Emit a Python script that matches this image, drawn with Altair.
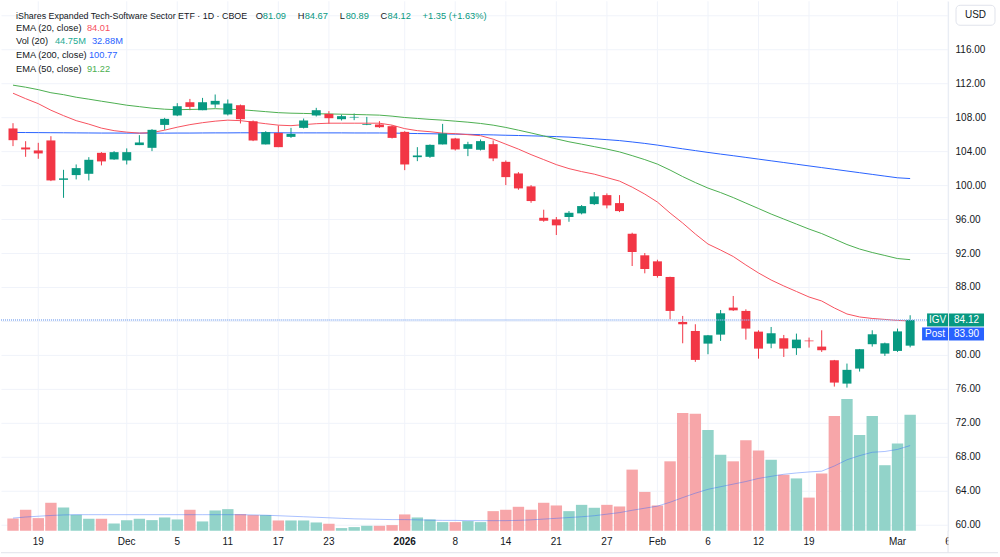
import altair as alt
import pandas as pd

# Daily sessions, Nov 17 2025 .. Mar 3 2026 (index 0 .. 71)
opens = [106.67, 104.43, 104.08, 105.26, 100.62, 101.18, 101.33, 103.80, 103.02, 102.90,
         104.71, 104.39, 107.09, 108.20, 109.76, 108.82, 109.49, 108.32, 109.41, 107.53,
         104.79, 106.15, 105.68, 106.74, 108.20, 108.39, 107.76, 107.96, 107.09, 107.14,
         106.94, 106.27, 103.29, 103.33, 104.79, 105.49, 104.27, 104.16, 104.82, 102.74,
         101.37, 99.85, 96.15, 95.96, 96.24, 96.67, 97.76, 98.82, 97.88, 94.27,
         91.73, 91.02, 89.18, 83.88, 82.82, 81.33, 82.39, 85.57, 85.18, 82.74,
         81.33, 81.96, 80.79, 81.69, 80.98, 79.37, 76.62, 78.39, 81.26, 80.15,
         80.47, 81.09]
highs = [107.29, 105.17, 104.98, 105.76, 101.80, 102.43, 103.29, 103.88, 104.00, 104.32,
         105.88, 106.59, 107.92, 109.65, 110.15, 110.27, 110.67, 110.08, 109.49, 107.61,
         106.35, 107.02, 106.74, 107.84, 109.10, 108.71, 108.32, 108.43, 108.03, 107.53,
         107.06, 106.35, 104.47, 104.79, 107.21, 105.56, 105.10, 105.37, 105.26, 102.90,
         101.53, 100.00, 97.10, 96.24, 96.94, 97.65, 99.18, 99.02, 98.82, 94.39,
         92.00, 91.21, 89.21, 84.59, 83.61, 82.35, 85.29, 86.94, 85.37, 82.90,
         83.29, 82.35, 82.51, 82.04, 82.90, 79.41, 78.98, 80.70, 82.90, 81.45,
         83.10, 84.67]
lows = [104.59, 103.33, 103.10, 100.47, 98.50, 100.67, 100.55, 102.32, 102.98, 102.43,
        104.71, 104.00, 106.51, 108.12, 108.82, 108.82, 109.10, 108.20, 107.26, 105.18,
        104.79, 104.47, 105.56, 106.67, 108.08, 107.21, 107.61, 107.65, 107.06, 106.74,
        105.49, 101.76, 102.82, 103.21, 104.79, 104.08, 103.41, 104.08, 102.82, 100.00,
        99.45, 97.92, 95.68, 94.12, 95.68, 96.55, 97.65, 97.26, 96.82, 90.47,
        89.61, 89.10, 84.20, 81.37, 79.18, 80.08, 81.65, 85.18, 81.80, 79.56,
        80.79, 79.76, 80.00, 80.86, 80.35, 76.27, 76.15, 78.04, 80.98, 79.88,
        80.35, 80.89]
closes = [105.29, 104.20, 103.73, 100.55, 100.79, 102.00, 102.98, 102.79, 103.88, 103.88,
          105.02, 106.51, 107.80, 109.29, 109.21, 109.76, 109.92, 109.61, 107.76, 105.26,
          106.24, 104.47, 106.03, 107.61, 108.82, 107.88, 108.12, 108.03, 107.18, 106.82,
          105.56, 102.43, 103.49, 104.74, 106.08, 104.20, 104.82, 105.18, 103.14, 100.94,
          99.61, 98.12, 95.80, 95.26, 96.74, 97.53, 98.67, 97.61, 96.94, 92.12,
          90.12, 89.29, 85.18, 83.61, 79.41, 82.31, 84.90, 85.25, 83.10, 80.74,
          82.55, 80.74, 81.80, 81.61, 80.55, 76.74, 78.24, 80.67, 82.43, 81.37,
          82.77, 84.12]
# Volume in millions of shares
volume_m = [4.74, 8.1, 4.87, 10.8, 8.98, 6.17, 4.63, 4.63, 2.8, 4.1,
            4.63, 4.1, 5.13, 4.36, 8.1, 3.59, 7.83, 8.34, 6.42, 6.04,
            6.04, 3.97, 3.97, 3.97, 3.2, 2.7, 1.03, 1.41, 1.92, 1.92,
            2.18, 6.3, 5.13, 4.36, 3.33, 3.33, 3.72, 3.33, 7.57, 8.1,
            9.25, 8.1, 10.8, 9.76, 7.57, 10.0, 8.87, 10.0, 9.37, 23.6,
            15.0, 9.76, 26.8, 45.5, 45.2, 38.9, 29.3, 26.8, 34.9, 31.0,
            27.4, 21.6, 20.2, 12.8, 22.1, 44.3, 50.9, 37.0, 44.3, 25.3,
            33.7, 44.75]
vol_ma20 = [4.9, 5.3, 5.6, 5.9, 6.1, 6.2, 6.2, 6.2, 6.2, 6.2,
            6.2, 6.2, 6.2, 6.2, 6.2, 6.2, 6.2, 6.2, 6.2, 6.1,
            6.0, 5.8, 5.6, 5.4, 5.2, 5.0, 4.8, 4.6, 4.5, 4.4,
            4.3, 4.3, 4.2, 4.1, 4.0, 4.0, 3.9, 3.9, 3.9, 3.9,
            4.0, 4.2, 4.5, 4.8, 5.1, 5.4, 5.8, 6.4, 7.0, 7.9,
            8.7, 9.5, 11.0, 12.8, 14.5, 16.0, 17.0, 18.0, 19.0, 20.2,
            21.0, 21.8, 22.3, 22.7, 23.0, 25.0, 27.4, 29.0, 30.3, 30.6,
            31.4, 32.88]
ema20 = [110.82, 110.18, 109.59, 108.82, 108.18, 107.59, 107.18, 106.71, 106.41, 106.24,
         106.12, 106.18, 106.47, 106.82, 107.12, 107.35, 107.53, 107.65, 107.59, 107.41,
         107.23, 107.06, 107.00, 107.12, 107.23, 107.29, 107.29, 107.29, 107.29, 107.29,
         107.06, 106.65, 106.41, 106.29, 106.12, 106.06, 105.94, 105.82, 105.41, 104.82,
         104.24, 103.59, 103.00, 102.41, 101.94, 101.59, 101.29, 100.88, 100.47, 99.76,
         98.94, 98.00, 96.71, 95.53, 94.24, 93.06, 92.35, 91.59, 90.59, 89.65,
         88.82, 88.12, 87.47, 86.82, 86.35, 85.53, 84.82, 84.47, 84.29, 84.18,
         84.06, 84.01]
ema50 = [111.77, 111.53, 111.24, 110.88, 110.65, 110.35, 110.12, 109.88, 109.65, 109.41,
         109.24, 109.06, 108.94, 108.88, 108.91, 108.94, 109.00, 108.94, 108.88, 108.77,
         108.65, 108.53, 108.47, 108.44, 108.40, 108.38, 108.35, 108.32, 108.28, 108.24,
         108.12, 107.96, 107.85, 107.74, 107.65, 107.53, 107.41, 107.26, 107.06, 106.79,
         106.47, 106.14, 105.79, 105.44, 105.10, 104.82, 104.53, 104.24, 103.91, 103.47,
         103.00, 102.47, 101.77, 101.00, 100.30, 99.65, 99.12, 98.53, 97.88, 97.24,
         96.59, 96.00, 95.41, 94.82, 94.29, 93.65, 93.00, 92.47, 92.06, 91.71,
         91.35, 91.22]
ema200 = [106.20, 106.19, 106.18, 106.17, 106.16, 106.15, 106.14, 106.13, 106.13, 106.12,
          106.12, 106.12, 106.12, 106.13, 106.13, 106.14, 106.15, 106.15, 106.16, 106.16,
          106.16, 106.16, 106.15, 106.15, 106.15, 106.15, 106.15, 106.14, 106.14, 106.14,
          106.13, 106.10, 106.07, 106.05, 106.02, 106.00, 105.98, 105.94, 105.91, 105.87,
          105.84, 105.80, 105.76, 105.71, 105.65, 105.55, 105.46, 105.35, 105.24, 105.08,
          104.91, 104.71, 104.49, 104.27, 104.06, 103.85, 103.65, 103.46, 103.26, 103.06,
          102.86, 102.66, 102.46, 102.26, 102.06, 101.86, 101.66, 101.46, 101.26, 101.06,
          100.86, 100.77]
post_price = 83.90

# Date labels on the session axis
tick_idx = [2, 9, 13, 17, 21, 25, 31, 35, 39, 43, 47, 51, 55, 59, 63, 70, 74]
tick_text = ["19", "Dec", "5", "11", "17", "23", "2026", "8", "14", "21", "27",
             "Feb", "6", "12", "19", "Mar", "6"]
year_label = "2026"
price_ticks = list(range(60, 121, 4))

UP, DOWN = "#089981", "#F23645"
UP_VOL, DOWN_VOL = "#92D3C9", "#F7A6A9"
TXT = "#131722"
GRID = "#F0F3FA"
FRAME = "#E0E3EB"
FONT = "Liberation Sans"

W, H = 948, 530
n = len(closes)
df = pd.DataFrame({
    "i": list(range(n)), "open": opens, "high": highs, "low": lows, "close": closes,
    "vol": volume_m, "volma": vol_ma20, "ema20": ema20, "ema50": ema50, "ema200": ema200,
})
df["dir"] = ["up" if c >= o else "down" for o, c in zip(opens, closes)]
ticks_df = pd.DataFrame({"t": tick_idx, "label": tick_text})
ticks_df["bold"] = ticks_df["label"] == year_label

# padding=0 keeps the session axis edge-to-edge despite the bar marks
xs = alt.Scale(domain=[-0.95, 74.0], nice=False, zero=False, padding=0)
ys = alt.Scale(domain=[59.29, 121.65], nice=False, zero=False)
vs = alt.Scale(domain=[0, 204.4], nice=False, zero=True)
is_up = "datum.dir == 'up'"
candle_col = alt.condition(is_up, alt.value(UP), alt.value(DOWN))
vol_col = alt.condition(is_up, alt.value(UP_VOL), alt.value(DOWN_VOL))

y_axis = alt.Axis(orient="right", values=price_ticks, title=None, grid=True, gridColor=GRID,
                  labelExpr="datum.value >= 120 ? '' : format(datum.value, '.2f')",
                  domain=True, domainColor=FRAME, ticks=False, labelColor=TXT,
                  labelFont=FONT, labelFontSize=10, labelPadding=7, labelOverlap=False)

base = alt.Chart(df)
tbase = alt.Chart(ticks_df)

# Session grid and date labels
v_grid = tbase.mark_rule(color=GRID, strokeWidth=1).encode(
    x=alt.X("t:Q", scale=xs, axis=None), y=alt.value(0), y2=alt.value(H))


def date_labels(bold):
    return tbase.transform_filter(
        "datum.bold" if bold else "!datum.bold"
    ).mark_text(
        font=FONT, fontSize=10, color=TXT, baseline="middle", align="center",
        fontWeight="bold" if bold else "normal",
    ).encode(x=alt.X("t:Q", scale=xs, axis=None), y=alt.value(541), text="label:N")


# Volume pane with its own scale
vol_bars = base.mark_bar(size=11.4).encode(
    x=alt.X("i:Q", scale=xs, axis=None),
    y=alt.Y("vol:Q", scale=vs, axis=None),
    color=vol_col,
)
vol_line = base.mark_line(color="#2962FF", opacity=0.4, strokeWidth=1).encode(
    x=alt.X("i:Q", scale=xs, axis=None),
    y=alt.Y("volma:Q", scale=vs, axis=None),
)

# Price pane
wicks = base.mark_rule(strokeWidth=1).encode(
    x=alt.X("i:Q", scale=xs, axis=None),
    y=alt.Y("low:Q", scale=ys, axis=y_axis),
    y2="high:Q",
    color=candle_col,
)
bodies = base.mark_bar(size=9).encode(
    x=alt.X("i:Q", scale=xs, axis=None),
    y=alt.Y("open:Q", scale=ys, axis=None),
    y2="close:Q",
    color=candle_col,
)


def ema_line(field, color):
    return base.mark_line(color=color, strokeWidth=1).encode(
        x=alt.X("i:Q", scale=xs, axis=None),
        y=alt.Y(f"{field}:Q", scale=ys, axis=None),
    )


last_close = closes[-1]
price_line = alt.Chart(pd.DataFrame({"p": [last_close]})).mark_rule(
    color="#8DB1F2", strokeDash=[1, 1], strokeWidth=1.5
).encode(x=alt.value(0), x2=alt.value(W), y=alt.Y("p:Q", scale=ys, axis=None))


def tag(x0, x1, price, text, fill, dy=0):
    d = pd.DataFrame({"p": [price], "t": [text]})
    box = alt.Chart(d).mark_rule(color=fill, strokeWidth=13, yOffset=dy).encode(
        x=alt.value(x0), x2=alt.value(x1), y=alt.Y("p:Q", scale=ys, axis=None))
    lab = alt.Chart(d).mark_text(color="white", font=FONT, fontSize=10, align="center",
                                 baseline="middle", yOffset=dy).encode(
        x=alt.value((x0 + x1) / 2), y=alt.Y("p:Q", scale=ys, axis=None), text="t:N")
    return [box, lab]


tags = (tag(927, W, last_close, "IGV", UP) + tag(W + 1, 984, last_close, f"{last_close:.2f}", UP)
        + tag(922, W, last_close, "Post", "#2962FF", 14)
        + tag(W + 1, 984, last_close, f"{post_price:.2f}", "#2962FF", 14))


def txt(x, y, s, color=TXT, size=9.3, weight="normal", align="left"):
    return alt.Chart(pd.DataFrame({"t": [s]})).mark_text(
        align=align, baseline="middle", font=FONT, fontSize=size, color=color, fontWeight=weight
    ).encode(x=alt.value(x), y=alt.value(y), text="t:N")


chg = closes[-1] - closes[-2]
chg_pct = chg / closes[-2] * 100
legend = [
    txt(15, 14.5, "iShares Expanded Tech-Software Sector ETF · 1D · CBOE", size=8.9),
    txt(255, 14.5, "O"), txt(262, 14.5, f"{opens[-1]:.2f}", UP),
    txt(297, 14.5, "H"), txt(304, 14.5, f"{highs[-1]:.2f}", UP),
    txt(339, 14.5, "L"), txt(345, 14.5, f"{lows[-1]:.2f}", UP),
    txt(380, 14.5, "C"), txt(387, 14.5, f"{closes[-1]:.2f}", UP),
    txt(422, 14.5, f"{chg:+.2f} ({chg_pct:+.2f}%)", UP),
    txt(15, 27, "EMA (20, close)"), txt(86, 27, f"{ema20[-1]:.2f}", "#F7525F"),
    txt(15, 40, "Vol (20)"), txt(54, 40, f"{volume_m[-1]:.2f}M", "#22AB94"),
    txt(91, 40, f"{vol_ma20[-1]:.2f}M", "#2962FF"),
    txt(15, 53.5, "EMA (200, close)"), txt(88, 53.5, f"{ema200[-1]:.2f}", "#2962FF"),
    txt(15, 67.5, "EMA (50, close)"), txt(86, 67.5, f"{ema50[-1]:.2f}", "#4CAF50"),
]

one = pd.DataFrame({"k": [0]})
usd_box = alt.Chart(one).mark_rect(fill="white", stroke=FRAME, cornerRadius=4).encode(
    x=alt.value(956), x2=alt.value(995), y=alt.value(4), y2=alt.value(24))
usd_txt = txt(975.5, 14, "USD", size=10, align="center")
# price-scale pane to the right of the plot, continuing below the plot area
scale_pane = alt.Chart(one).mark_rect(fill="white").encode(
    x=alt.value(W + 0.5), x2=alt.value(1000), y=alt.value(H + 1), y2=alt.value(551))
pane_edge = alt.Chart(one).mark_rule(color=FRAME).encode(
    x=alt.value(W), y=alt.value(H), y2=alt.value(552))
bottom_line = alt.Chart(one).mark_rule(color=FRAME).encode(
    x=alt.value(0), x2=alt.value(998), y=alt.value(552))

chart = alt.layer(
    v_grid, vol_bars, vol_line, wicks,
    ema_line("ema200", "#2962FF"), ema_line("ema50", "#4CAF50"), ema_line("ema20", "#F7525F"),
    bodies, price_line, *tags, date_labels(False), date_labels(True),
    scale_pane, pane_edge, usd_box, usd_txt, bottom_line, *legend,
).resolve_scale(
    y="independent"
).properties(
    width=W, height=H, padding=0, background="white"
).configure_view(stroke=None)

chart.save("out.html", embed_options={"renderer": "svg", "actions": False})
